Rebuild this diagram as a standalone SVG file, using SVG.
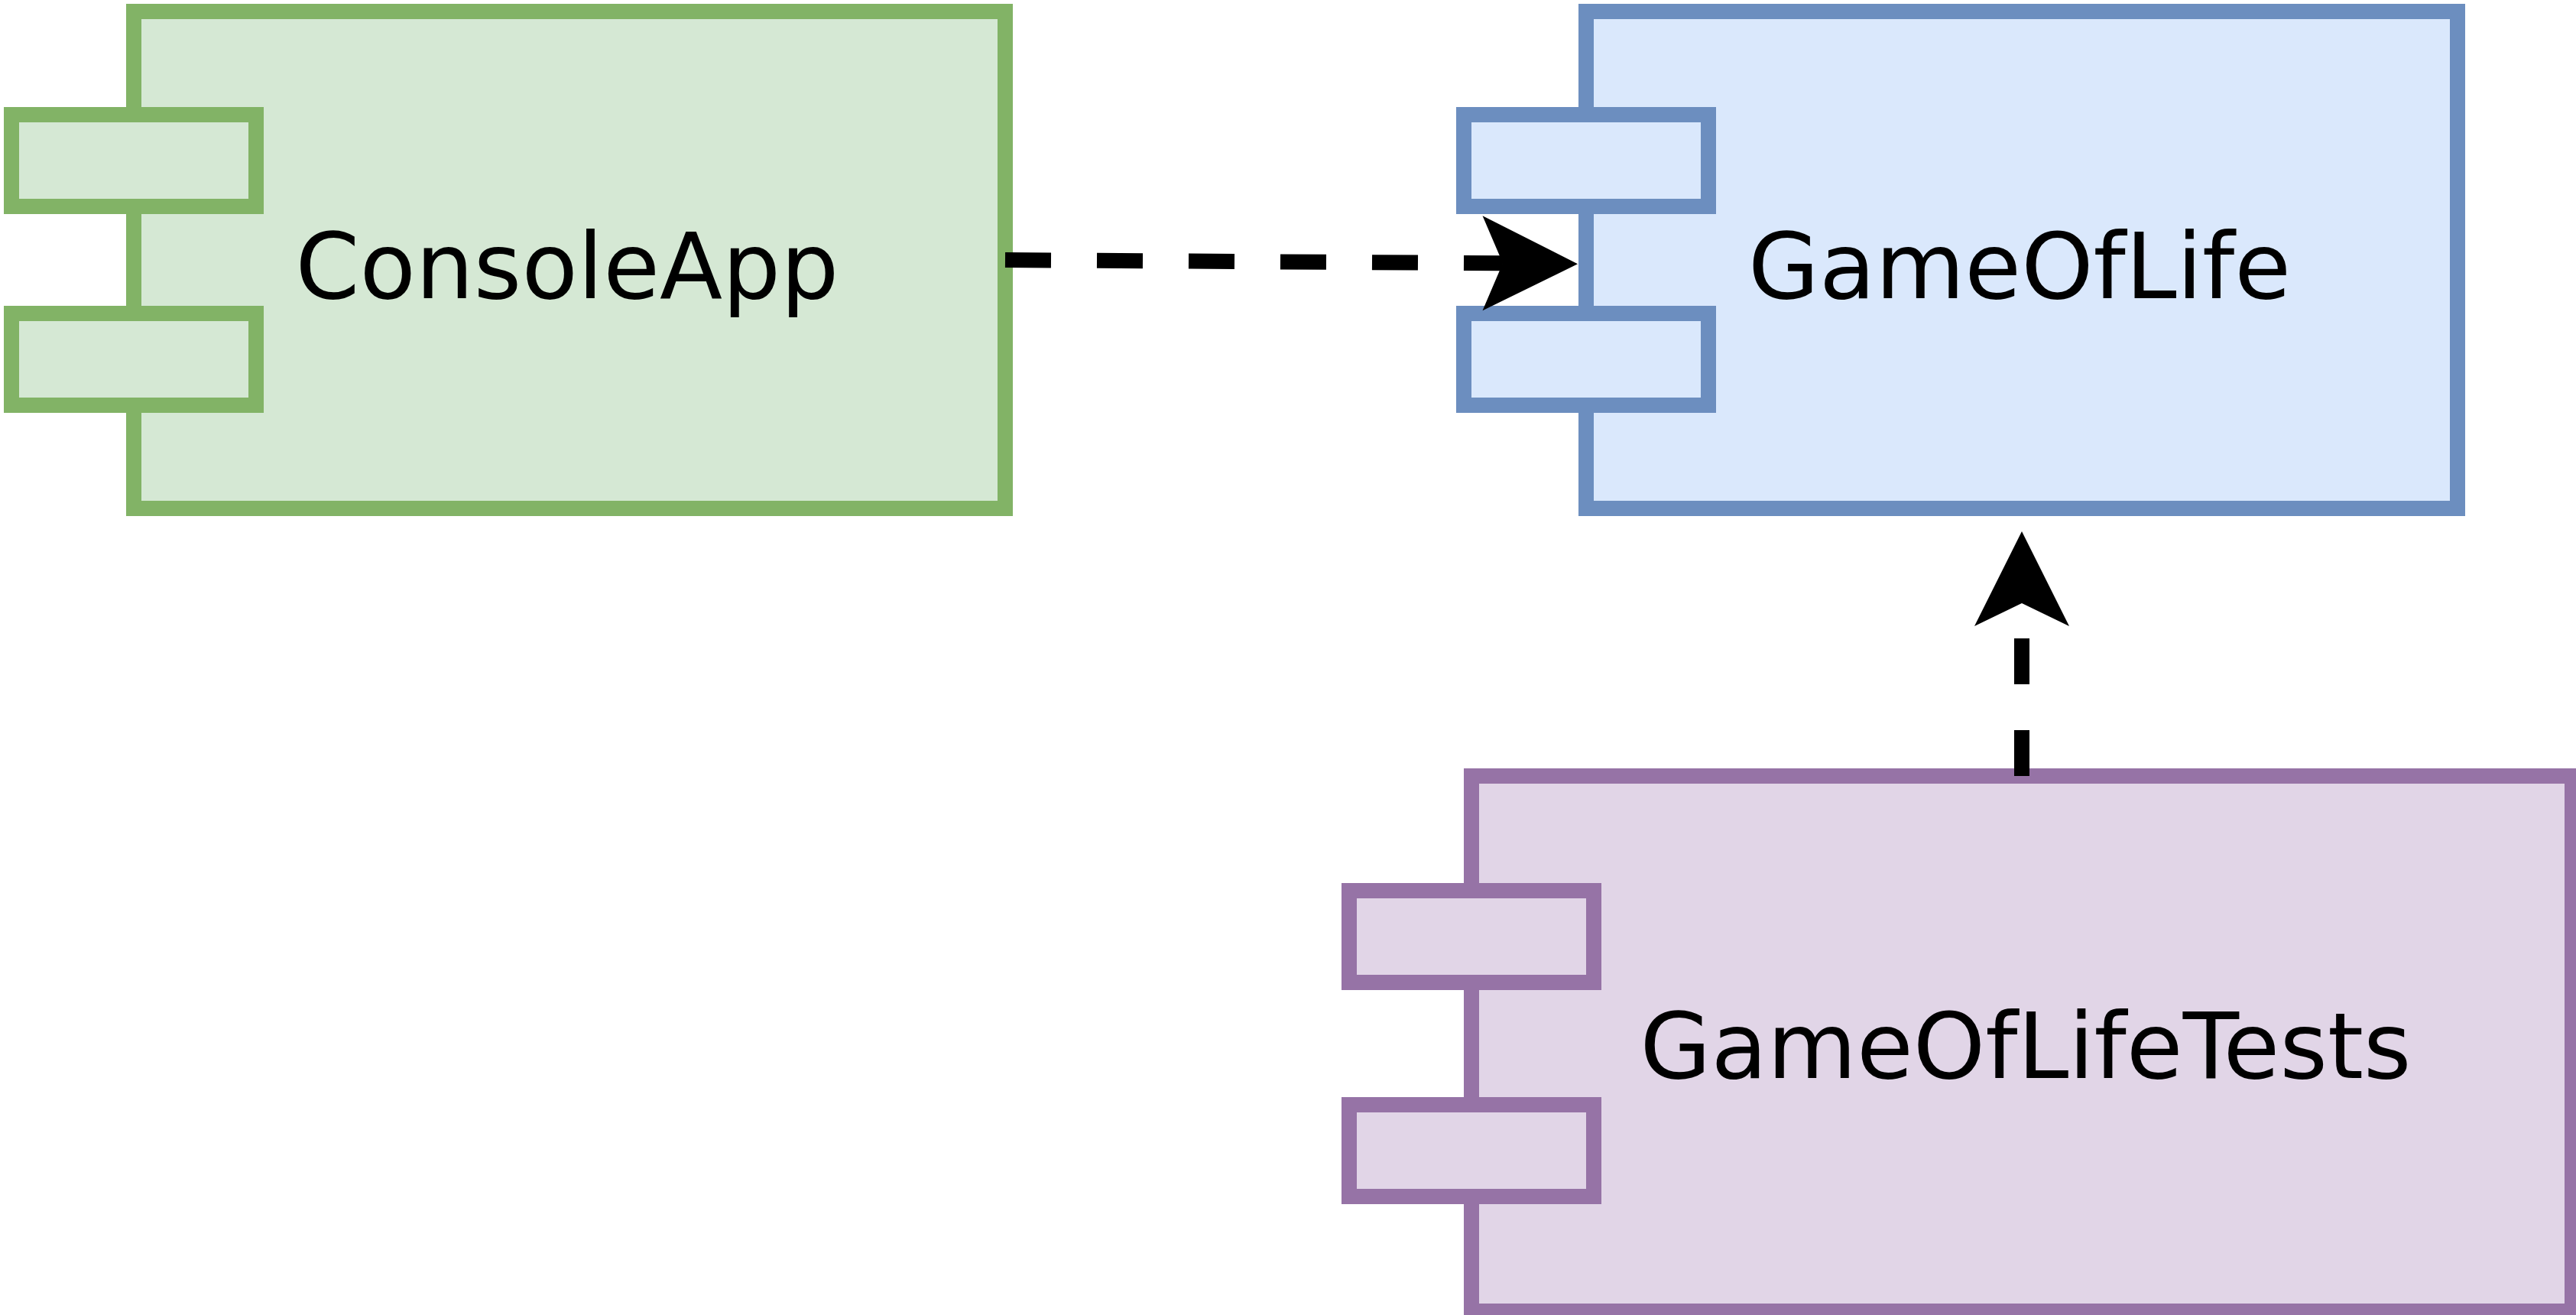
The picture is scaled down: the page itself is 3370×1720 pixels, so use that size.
<svg xmlns="http://www.w3.org/2000/svg" width="3370" height="1720" viewBox="0 0 3370 1720">
  <style>
    .green { fill: #d5e8d4; stroke: #82b366; stroke-width: 20; }
    .blue { fill: #dae8fc; stroke: #6c8ebf; stroke-width: 20; }
    .purple { fill: #e1d5e7; stroke: #9673a6; stroke-width: 20; }
    .label { font-family: "DejaVu Sans", Verdana, sans-serif; font-size: 120px; fill: #000000; text-anchor: middle; }
    .edge { fill: none; stroke: #000000; stroke-width: 20; stroke-dasharray: 60 60; stroke-linecap: butt; }
    .head { fill: #000000; stroke: none; }
  </style>
  <rect width="3370" height="1720" fill="#ffffff"/>

  <g id="ConsoleApp">
    <rect class="green" x="175" y="15" width="1140" height="650"/>
    <rect class="green" x="15" y="150" width="320" height="120"/>
    <rect class="green" x="15" y="410" width="320" height="120"/>
    <text class="label" x="742" y="390">ConsoleApp</text>
  </g>

  <g id="GameOfLife">
    <rect class="blue" x="2075" y="15" width="1140" height="650"/>
    <rect class="blue" x="1915" y="150" width="320" height="120"/>
    <rect class="blue" x="1915" y="410" width="320" height="120"/>
    <text class="label" x="2642" y="390">GameOfLife</text>
  </g>

  <g id="GameOfLifeTests">
    <rect class="purple" x="1925" y="1015" width="1440" height="700"/>
    <rect class="purple" x="1765" y="1165" width="320" height="120"/>
    <rect class="purple" x="1765" y="1445" width="320" height="120"/>
    <text class="label" x="2650" y="1410">GameOfLifeTests</text>
  </g>

  <g id="connectors">
    <path class="edge" d="M 1315 340 L 1966 344.3"/>
    <polygon class="head" points="2064,345.3 1939.5,282.3 1966,344.3 1939.5,406.3"/>
    <path class="edge" d="M 2645 1015 L 2645 789"/>
    <polygon class="head" points="2645,695 2707,819 2645,789 2583,819"/>
  </g>
</svg>
